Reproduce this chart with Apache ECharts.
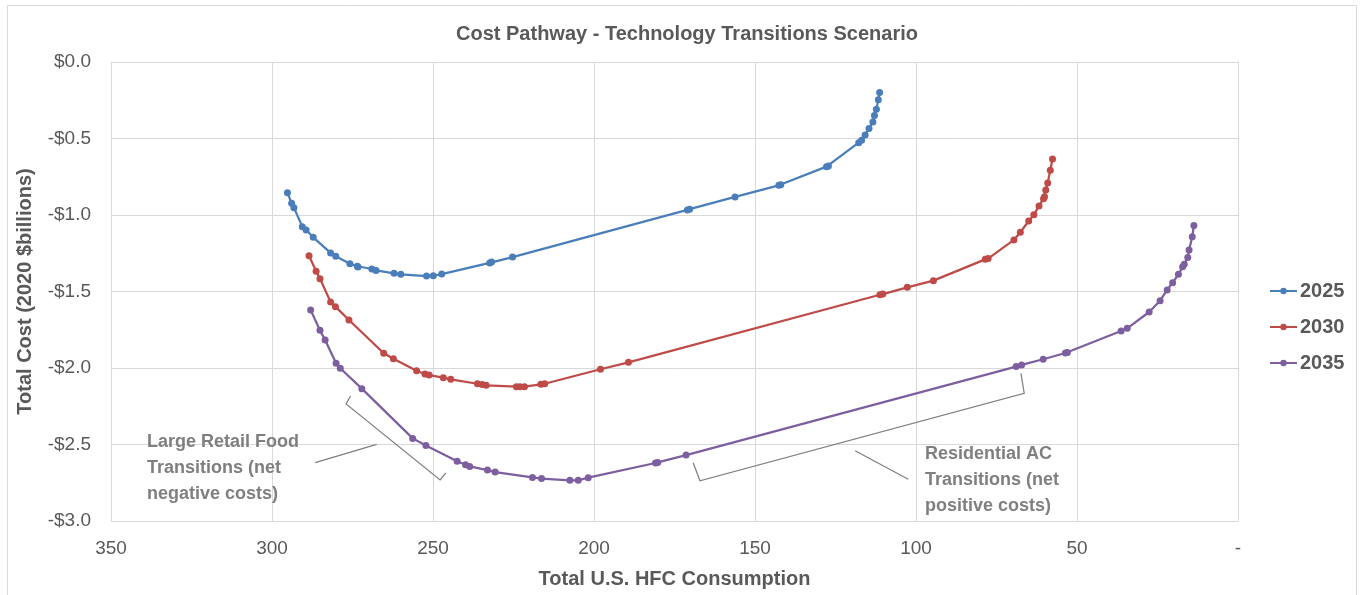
<!DOCTYPE html>
<html>
<head>
<meta charset="utf-8">
<script src="https://cdn.jsdelivr.net/npm/echarts@6/dist/echarts.min.js"></script>
<style>html,body{margin:0;padding:0;background:#fff;}#c{width:1364px;height:595px;}</style>
</head>
<body>
<div id="c"></div>
<script>
var seriesNames = ['2025', '2030', '2035'];
var xTicks = [0, 50, 100, 150, 200, 250, 300, 350];
var yTicks = [-3.0, -2.5, -2.0, -1.5, -1.0, -0.5, 0.0];

var cost2025 = [[295.2,-0.854],[293.9,-0.924],[293.2,-0.952],[290.6,-1.076],[289.4,-1.098],[287.2,-1.146],[281.8,-1.248],[280.2,-1.27],[275.8,-1.318],[273.5,-1.335],[273.3,-1.34],[269.0,-1.353],[267.7,-1.362],[262.1,-1.381],[260.0,-1.388],[252.0,-1.399],[249.9,-1.397],[247.3,-1.386],[232.4,-1.313],[231.8,-1.308],[225.3,-1.275],[171.0,-0.967],[170.3,-0.962],[156.2,-0.882],[142.6,-0.806],[142.0,-0.802],[127.8,-0.684],[127.2,-0.68],[117.8,-0.527],[116.9,-0.512],[115.8,-0.477],[114.6,-0.434],[113.4,-0.392],[112.9,-0.349],[112.3,-0.309],[111.7,-0.246],[111.3,-0.2]];

var cost2030 = [[288.5,-1.266],[286.3,-1.368],[285.1,-1.416],[281.8,-1.569],[280.3,-1.599],[276.1,-1.686],[265.3,-1.904],[262.3,-1.939],[255.1,-2.018],[252.5,-2.039],[251.2,-2.046],[246.8,-2.063],[244.5,-2.074],[236.2,-2.103],[234.7,-2.108],[233.5,-2.113],[224.1,-2.122],[223.0,-2.122],[221.6,-2.122],[216.5,-2.107],[215.3,-2.103],[198.0,-2.008],[189.3,-1.963],[111.2,-1.521],[110.3,-1.517],[102.7,-1.473],[94.6,-1.429],[78.5,-1.29],[77.6,-1.285],[69.6,-1.163],[67.6,-1.113],[65.0,-1.039],[63.4,-0.998],[61.8,-0.941],[60.4,-0.893],[60.1,-0.88],[59.7,-0.837],[59.1,-0.791],[58.3,-0.708],[57.6,-0.634]];

var cost2035 = [[288.0,-1.621],[285.1,-1.754],[283.5,-1.817],[280.1,-1.969],[278.8,-2.002],[272.1,-2.135],[256.3,-2.46],[252.2,-2.507],[242.5,-2.61],[239.9,-2.632],[238.6,-2.643],[233.1,-2.667],[230.7,-2.68],[219.1,-2.715],[216.3,-2.723],[207.5,-2.734],[204.9,-2.734],[201.8,-2.717],[180.9,-2.621],[180.2,-2.617],[171.4,-2.569],[68.9,-1.991],[67.2,-1.98],[60.5,-1.943],[53.6,-1.902],[53.0,-1.898],[36.3,-1.758],[34.4,-1.741],[27.6,-1.634],[24.2,-1.56],[22.0,-1.49],[20.3,-1.442],[18.5,-1.388],[17.2,-1.338],[16.7,-1.322],[15.6,-1.277],[15.2,-1.229],[14.2,-1.142],[13.7,-1.068]];

// annotation geometry in data coordinates [consumption, cost]
var bracketRetail = [[275.6,-2.183],[277.0,-2.235],[247.8,-2.732],[246.0,-2.686]];
var pointerRetail = [[286.6,-2.619],[267.5,-2.499]];
var bracketResidential = [[169.2,-2.619],[167.1,-2.737],[66.4,-2.165],[67.4,-2.035]];
var pointerResidential = [[118.9,-2.541],[102.4,-2.727]];
var textRetail = {pos: [338.8, -2.40], lines: 'Large Retail Food\nTransitions (net\nnegative costs)'};
var textResidential = {pos: [97.2, -2.48], lines: 'Residential AC\nTransitions (net\npositive costs)'};

var colors = ['#4a7ebb', '#be4b48', '#7d5fa0'];
var FONT = '"Liberation Sans", Arial, sans-serif';

var chart = echarts.init(document.getElementById('c'), null, {renderer: 'canvas'});

function mkSeries(name, data, color) {
  return {
    name: name, type: 'line', data: data,
    symbol: 'circle', symbolSize: 7, showSymbol: true,
    lineStyle: {width: 2.25, color: color},
    itemStyle: {color: color},
    emphasis: {disabled: true},
    animation: false, z: 3
  };
}

chart.setOption({
  animation: false,
  backgroundColor: '#ffffff',
  title: {
    text: 'Cost Pathway - Technology Transitions Scenario',
    left: 682, top: 19, textAlign: 'center',
    textStyle: {fontFamily: FONT, fontSize: 20, fontWeight: 'bold', color: '#595959'}
  },
  legend: {
    orient: 'vertical', left: 1264, top: 275, itemGap: 14,
    itemWidth: 27, itemHeight: 8,
    data: seriesNames,
    textStyle: {fontFamily: FONT, fontSize: 20, fontWeight: 'bold', color: '#595959', lineHeight: 22, padding: [0,0,0,-2]}
  },
  grid: {left: 111, right: 126, top: 62, bottom: 74, containLabel: false},
  xAxis: {
    type: 'value', inverse: true, min: 0, max: 350, interval: 50,
    name: 'Total U.S. HFC Consumption', nameLocation: 'middle', nameGap: 48,
    nameTextStyle: {fontFamily: FONT, fontSize: 20, fontWeight: 'bold', color: '#595959'},
    axisLine: {show: true, lineStyle: {color: '#d9d9d9', width: 1}},
    axisTick: {show: false},
    splitLine: {show: true, lineStyle: {color: '#d9d9d9', width: 1}},
    axisLabel: {
      margin: 18, fontFamily: FONT, fontSize: 19, color: '#595959',
      formatter: function (v) { return xTicks.indexOf(v) >= 0 ? (v === 0 ? '-' : String(v)) : ''; }
    }
  },
  yAxis: {
    type: 'value', min: -3, max: 0, interval: 0.5,
    name: 'Total Cost (2020 $billions)', nameLocation: 'middle', nameGap: 76,
    nameTextStyle: {fontFamily: FONT, fontSize: 20, fontWeight: 'bold', color: '#595959'},
    axisLine: {show: true, lineStyle: {color: '#d9d9d9', width: 1}},
    axisTick: {show: false},
    splitLine: {show: true, lineStyle: {color: '#d9d9d9', width: 1}},
    axisLabel: {
      margin: 20, fontFamily: FONT, fontSize: 19, color: '#595959',
      formatter: function (v) {
        if (Math.abs(v) < 1e-9) return '$0.0';
        return (v < 0 ? '-$' : '$') + Math.abs(v).toFixed(1);
      }
    }
  },
  series: [
    mkSeries(seriesNames[0], cost2025, colors[0]),
    mkSeries(seriesNames[1], cost2030, colors[1]),
    mkSeries(seriesNames[2], cost2035, colors[2])
  ]
});

function px(p) { return chart.convertToPixel({gridIndex: 0}, p); }
function poly(points) {
  return {type: 'polyline', shape: {points: points.map(px)}, style: {stroke: '#7f7f7f', lineWidth: 1.25, fill: null}, z: 10};
}
function txt(t) {
  var p = px(t.pos);
  return {type: 'text', x: p[0], y: p[1], style: {text: t.lines, fontFamily: FONT, fontSize: 18, fontWeight: 'bold', fill: '#7f7f7f', lineHeight: 26, textVerticalAlign: 'top'}, z: 10};
}

chart.setOption({
  graphic: [
    {type: 'rect', shape: {x: 7.5, y: 5.5, width: 1349, height: 620}, style: {stroke: '#d9d9d9', fill: null, lineWidth: 1}, silent: true, z: 0},
    poly(bracketRetail), poly(pointerRetail),
    poly(bracketResidential), poly(pointerResidential),
    txt(textRetail), txt(textResidential)
  ]
});
</script>
</body>
</html>
